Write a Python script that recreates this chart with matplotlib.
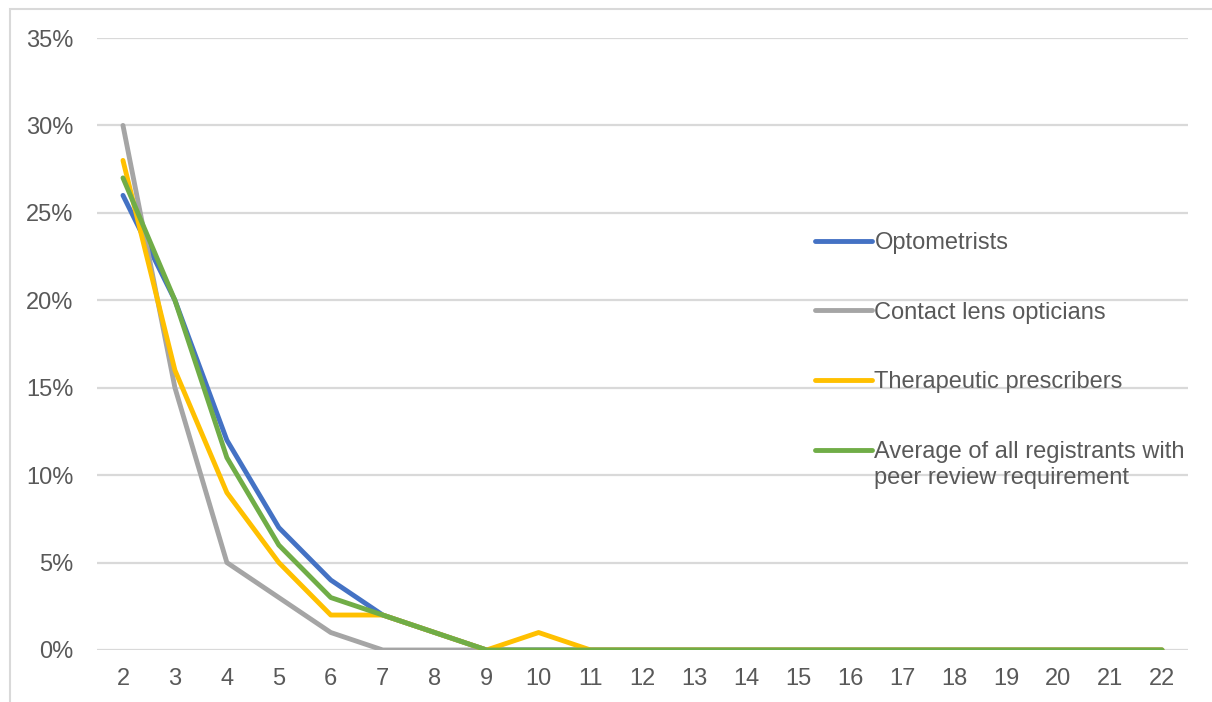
import matplotlib.pyplot as plt
from matplotlib.patches import Rectangle
from matplotlib.ticker import PercentFormatter

plt.rcParams['font.family'] = ['Liberation Sans', 'DejaVu Sans']

# number of peer reviews (x axis) and share of registrants in %
reviews = list(range(2, 23))
optometrists = [26, 20, 12, 7, 4, 2, 1, 0, 0, 0, 0, 0, 0, 0, 0, 0, 0, 0, 0, 0, 0]
contact_lens = [30, 15, 5, 3, 1, 0, 0, 0, 0, 0, 0, 0, 0, 0, 0, 0, 0, 0, 0, 0, 0]
therapeutic = [28, 16, 9, 5, 2, 2, 1, 0, 1, 0, 0, 0, 0, 0, 0, 0, 0, 0, 0, 0, 0]
average_all = [27, 20, 11, 6, 3, 2, 1, 0, 0, 0, 0, 0, 0, 0, 0, 0, 0, 0, 0, 0, 0]

names = ['Optometrists', 'Contact lens opticians', 'Therapeutic prescribers',
         'Average of all registrants with']
wrap_line = 'peer review requirement'
colours = ['#4472C4', '#A5A5A5', '#FFC000', '#70AD47']

W, H = 1212, 702
fig = plt.figure(figsize=(W / 100, H / 100), dpi=100)
ax = fig.add_axes([97 / W, (H - 650) / H, (1188 - 97) / W, (650 - 38) / H])

# outer chart border (only top/left visible)
fig.patches.append(Rectangle((10 / W, -0.1), 1.2, (H - 9) / H + 0.1,
                             transform=fig.transFigure, fill=False,
                             edgecolor='#D9D9D9', lw=1.5))

for series, name, c in zip([optometrists, contact_lens, therapeutic, average_all],
                           names, colours):
    ax.plot(reviews, series, color=c, lw=3.5, label=name,
            solid_capstyle='round', solid_joinstyle='round')

ax.set_xlim(1.5, 22.5)
ax.set_ylim(0, 35)
ax.set_yticks(range(0, 36, 5))
ax.yaxis.set_major_formatter(PercentFormatter(decimals=0))
ax.set_xticks(reviews)
ax.grid(axis='y', color='#D9D9D9', lw=1.6)
ax.set_axisbelow(True)
for s in ax.spines.values():
    s.set_visible(False)
ax.tick_params(length=0, labelsize=17, labelcolor='#595959')
ax.tick_params(axis='y', pad=17)
ax.tick_params(axis='x', pad=13)

leg = ax.legend(loc='upper left', bbox_to_anchor=(815 / W, (H - 232) / H),
                bbox_transform=fig.transFigure, frameon=False,
                fontsize=17, labelcolor='#595959', handlelength=2.4,
                handletextpad=0.12, labelspacing=2.02, borderpad=0, borderaxespad=0)

# legend handle sits on the first line, so the wrapped part goes below it
fig.canvas.draw()
bb = leg.get_texts()[-1].get_window_extent()
fig.text(bb.x0 / W, (bb.y0 - 26) / H, wrap_line, fontsize=17, color='#595959',
         ha='left', va='bottom')

fig.savefig('out.png', dpi=100, facecolor='white')
